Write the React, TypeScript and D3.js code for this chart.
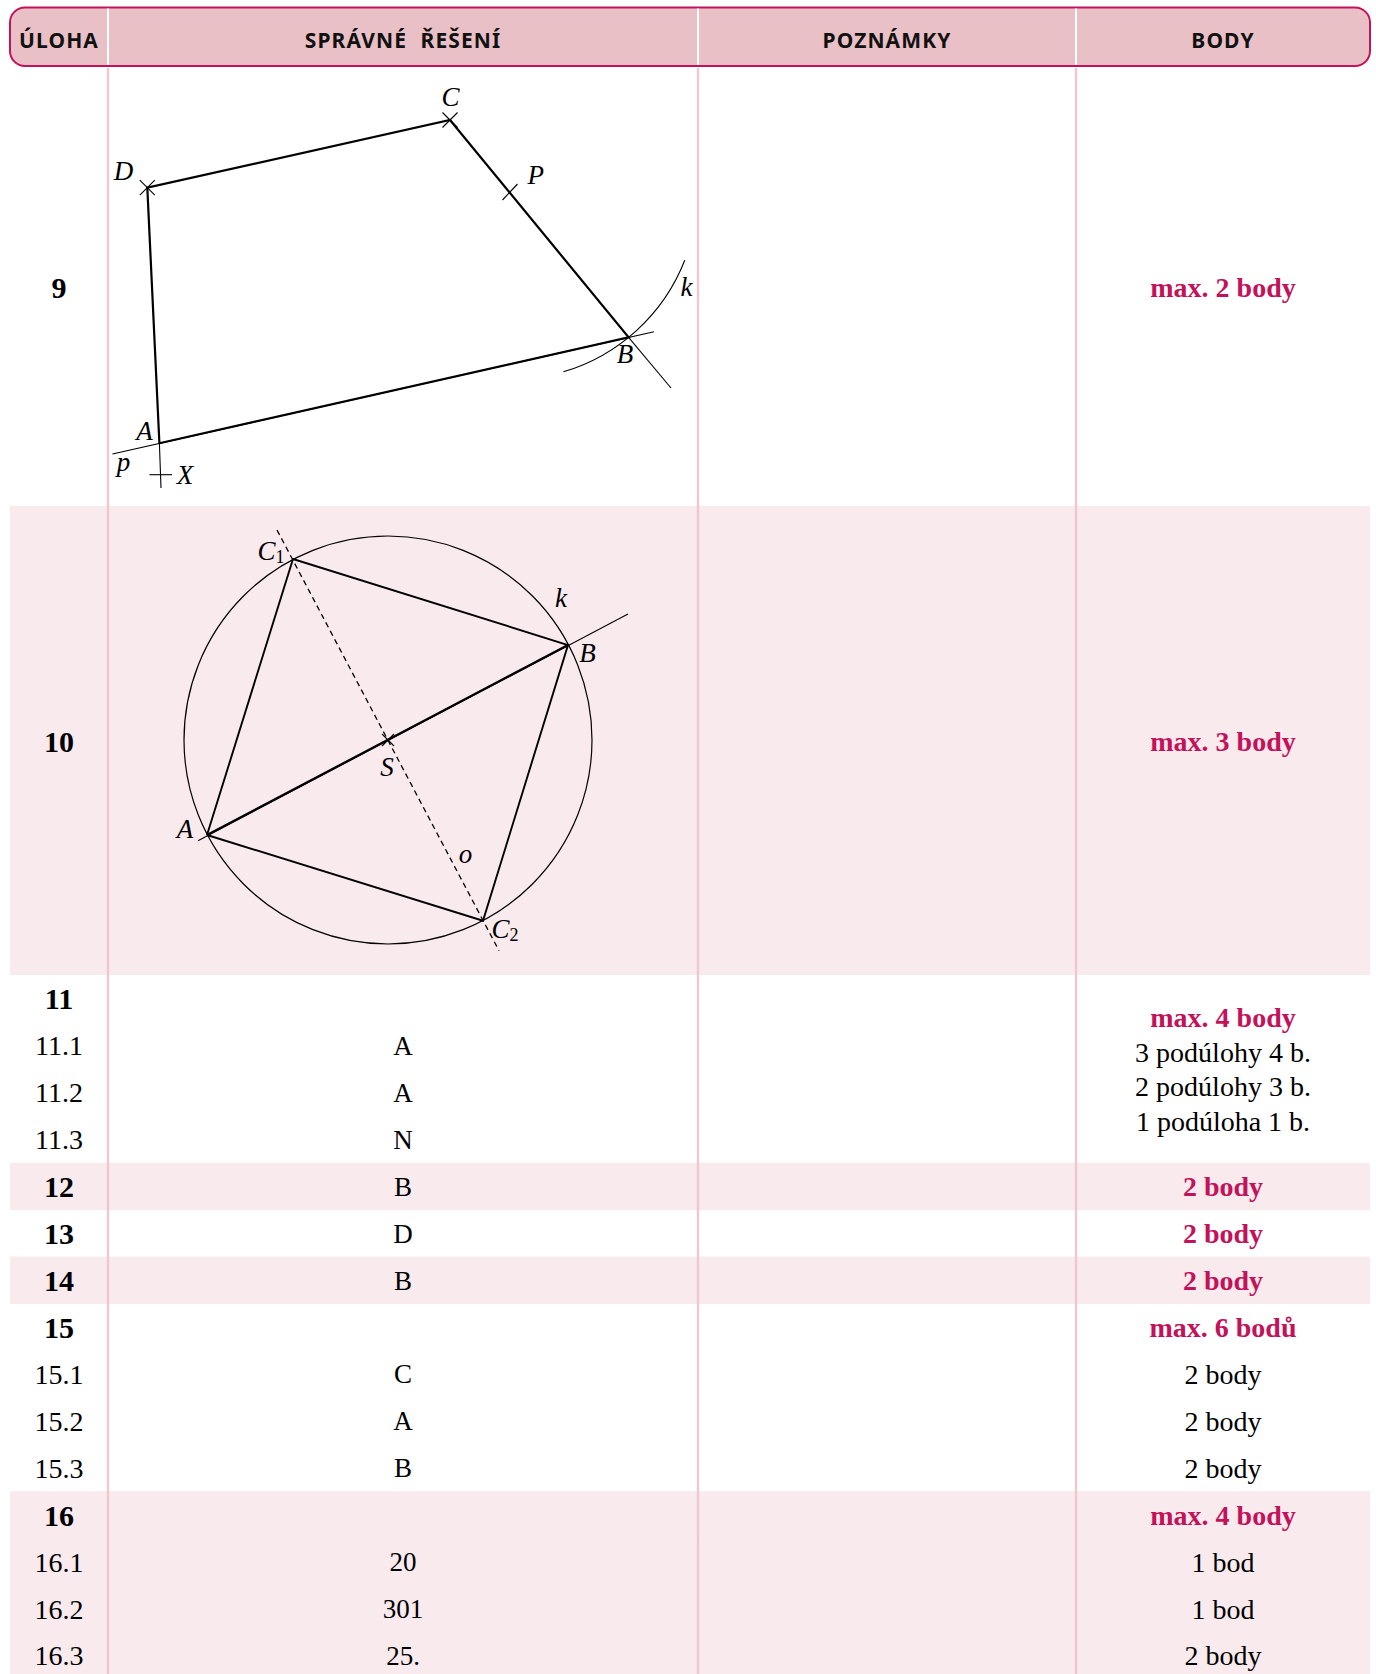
import React from 'react';
import * as d3 from 'd3';

const WIDTH = 1376;
const HEIGHT = 1674;

// header
const headers = ['ÚLOHA', 'SPRÁVNÉ ŘEŠENÍ', 'POZNÁMKY', 'BODY'];
const columnEdges = [10, 108, 698, 1076, 1370];

// table rows under the two drawings
const rowLabels = ['11', '11.1', '11.2', '11.3', '12', '13', '14', '15', '15.1', '15.2', '15.3', '16', '16.1', '16.2', '16.3'];
const rowAnswers = ['', 'A', 'A', 'N', 'B', 'D', 'B', '', 'C', 'A', 'B', '', '20', '301', '25.'];
const rowPoints = ['', '', '', '', '2 body', '2 body', '2 body', 'max. 6 bodů', '2 body', '2 body', '2 body', 'max. 4 body', '1 bod', '1 bod', '2 body'];
const shadedRows = ['12', '14', '16', '16.1', '16.2', '16.3'];
const task11Points = ['max. 4 body', '3 podúlohy 4 b.', '2 podúlohy 3 b.', '1 podúloha 1 b.'];

// drawing for task 9, units are px from the top left of the cell
const fig9 = {
  A: [52.4, 377.3], B: [521.6, 271.3], C: [343, 54], D: [40.3, 121.7], P: [403, 126],
};
const fig9PStart = [5.5, 388];
const fig9PEnd = [547, 265.7];
const fig9BcEnd = [564, 322];
const fig9AdEnd = [54, 422];
const fig9XTick = [[42.5, 408.7], [65, 408.7]];
const fig9ArcRadius = 187.6;
const fig9ArcAngles = [2.853, 1.943];
const fig9Labels: [string, number, number][] = [
  ['C', 343.5, 30.5], ['D', 16.5, 105], ['P', 428.7, 109], ['k', 579.6, 221], ['B', 518, 288], ['A', 37.5, 365], ['p', 16.5, 396], ['X', 78, 409],
];

// drawing for task 10
const fig10 = {
  A: [100, 329], B: [461, 139], C1: [186, 53], C2: [376, 414.7], S: [281, 234],
};
const fig10Line = [[91, 334.7], [521, 108]];
const fig10Axis = [[170, 24], [392, 444.7]];
const fig10Radius = 204;
const fig10Labels: [string, string, number, number][] = [
  ['C', '1', 164, 45], ['k', '', 454, 92], ['B', '', 480.5, 147], ['S', '', 280, 261], ['A', '', 78, 323], ['o', '', 358.5, 348], ['C', '2', 398, 423],
];

const BODY_FONT = '"Liberation Serif", serif';
const HEAD_FONT = '"Noto Sans", sans-serif';
const PINK = '#c4125a';
const HEAD_FILL = '#eac0c7';
const STRIPE = '#f9eaee';
const DIVIDER = '#eec8cf';

export default function App() {
  const rowY = d3.scaleBand().domain(rowLabels).range([975, 975 + 46.93 * rowLabels.length]);
  const colMid = (i: number) => (columnEdges[i] + columnEdges[i + 1]) / 2;

  const x9 = d3.scaleLinear().domain([0, 590]).range([107, 697]);
  const y9 = d3.scaleLinear().domain([0, 440]).range([66, 506]);
  const x10 = d3.scaleLinear().domain([0, 590]).range([107, 697]);
  const y10 = d3.scaleLinear().domain([0, 469]).range([506, 975]);

  const line9 = d3.line<number[]>().x(d => x9(d[0])).y(d => y9(d[1]));
  const line10 = d3.line<number[]>().x(d => x10(d[0])).y(d => y10(d[1]));

  const quad9 = line9([fig9.A, fig9.B, fig9.C, fig9.D, fig9.A]);
  const quad10 = line10([fig10.A, fig10.C1, fig10.B, fig10.C2, fig10.A]);
  const arc9 = d3.arc()({
    innerRadius: fig9ArcRadius,
    outerRadius: fig9ArcRadius,
    startAngle: fig9ArcAngles[0],
    endAngle: fig9ArcAngles[1],
  } as any);

  const cross = (x: number, y: number, dx: number, dy: number) =>
    `M${x - dx},${y - dy}L${x + dx},${y + dy}M${x + dx},${y - dy}L${x - dx},${y + dy}`;

  const rowCenter = (label: string) => (rowY(label) as number) + rowY.bandwidth() / 2 + 0.5;
  const textProps = { fontFamily: BODY_FONT, textAnchor: 'middle' as const, dominantBaseline: 'central' as const };

  return (
    <svg width={WIDTH} height={HEIGHT} style={{ position: 'absolute', left: 0, top: 0, background: '#fff' }}>
      {/* Stripes */}
      <rect x={10} y={y10(0)} width={1360} height={y10(469) - y10(0)} fill={STRIPE} />
      {shadedRows.map(r => (
        <rect key={r} x={10} y={rowY(r)} width={1360} height={rowY.bandwidth() + 0.5} fill={STRIPE} />
      ))}

      {/* Column dividers */}
      {columnEdges.slice(1, 4).map(x => (
        <line key={x} x1={x} x2={x} y1={68} y2={HEIGHT} stroke={DIVIDER} strokeWidth={2.4} />
      ))}

      {/* Header */}
      <rect x={10} y={7.5} width={1360} height={58.5} rx={15} fill={HEAD_FILL} stroke={PINK} strokeWidth={2} />
      {columnEdges.slice(1, 4).map(x => (
        <line key={x} x1={x} x2={x} y1={8.5} y2={65} stroke="#fff" strokeWidth={2} />
      ))}
      {headers.map((h, i) => (
        <text key={h} x={colMid(i)} y={47.5} textAnchor="middle" fontFamily={HEAD_FONT} fontWeight={700} fontSize={21} letterSpacing={1.1} wordSpacing={7} fill="#111">
          {h}
        </text>
      ))}

      {/* Task 9 */}
      <text {...textProps} x={colMid(0)} y={287} fontSize={30} fontWeight={700}>9</text>
      <text {...textProps} x={colMid(3)} y={287} fontSize={28} fontWeight={700} fill={PINK}>max. 2 body</text>
      <g fill="none" stroke="#000">
        <path d={quad9 ?? ''} strokeWidth={2.2} />
        <path d={line9([fig9PStart, fig9PEnd]) ?? ''} strokeWidth={1.1} />
        <path d={line9([fig9.B, fig9BcEnd]) ?? ''} strokeWidth={1.1} />
        <path d={line9([fig9.A, fig9AdEnd]) ?? ''} strokeWidth={1.1} />
        <path d={line9(fig9XTick) ?? ''} strokeWidth={1.1} />
        <path d={arc9 ?? ''} transform={`translate(${x9(fig9.P[0])},${y9(fig9.P[1])})`} strokeWidth={1.1} />
        <path d={cross(x9(fig9.C[0]), y9(fig9.C[1]), 7.5, 7.5)} strokeWidth={1.1} />
        <path d={cross(x9(fig9.D[0]), y9(fig9.D[1]), 7.5, 7.5)} strokeWidth={1.1} />
        <path d={`M${x9(fig9.P[0]) + 7.5},${y9(fig9.P[1]) - 8}L${x9(fig9.P[0]) - 7.5},${y9(fig9.P[1]) + 8}`} strokeWidth={1.1} />
      </g>
      {fig9Labels.map(([t, x, y]) => (
        <text key={t} {...textProps} x={x9(x)} y={y9(y)} fontSize={27} fontStyle="italic">{t}</text>
      ))}

      {/* Task 10 */}
      <text {...textProps} x={colMid(0)} y={741} fontSize={30} fontWeight={700}>10</text>
      <text {...textProps} x={colMid(3)} y={741} fontSize={28} fontWeight={700} fill={PINK}>max. 3 body</text>
      <g fill="none" stroke="#000">
        <circle cx={x10(fig10.S[0])} cy={y10(fig10.S[1])} r={fig10Radius} strokeWidth={1.2} />
        <path d={quad10 ?? ''} strokeWidth={1.9} />
        <path d={line10([fig10.A, fig10.B]) ?? ''} strokeWidth={2.2} />
        <path d={line10(fig10Line) ?? ''} strokeWidth={1.1} />
        <path d={line10(fig10Axis) ?? ''} strokeWidth={1.3} strokeDasharray="5.5 4" />
        <path d={cross(x10(fig10.S[0]), y10(fig10.S[1]), 6, 6)} strokeWidth={1.1} />
      </g>
      {fig10Labels.map(([t, sub, x, y]) => (
        <text key={t + sub} {...textProps} x={x10(x)} y={y10(y)} fontSize={27} fontStyle="italic">
          {t}
          {sub && <tspan fontStyle="normal" fontSize={18} dy={6}>{sub}</tspan>}
        </text>
      ))}

      {/* Rows 11 to 16 */}
      {rowLabels.map((label, i) => {
        const y = rowCenter(label);
        const isMain = !label.includes('.');
        const pts = rowPoints[i];
        return (
          <g key={label}>
            <text {...textProps} x={colMid(0)} y={y} fontSize={isMain ? 30 : 28} fontWeight={isMain ? 700 : 400}>{label}</text>
            <text {...textProps} x={colMid(1)} y={y} fontSize={27}>{rowAnswers[i]}</text>
            {pts && (
              <text {...textProps} x={colMid(3)} y={y} fontSize={28} fontWeight={isMain ? 700 : 400} fill={isMain ? PINK : '#000'}>{pts}</text>
            )}
          </g>
        );
      })}
      {task11Points.map((t, i) => (
        <text key={t} {...textProps} x={colMid(3)} y={1017.5 + i * 34.6} fontSize={28} fontWeight={i === 0 ? 700 : 400} fill={i === 0 ? PINK : '#000'}>{t}</text>
      ))}
    </svg>
  );
}
